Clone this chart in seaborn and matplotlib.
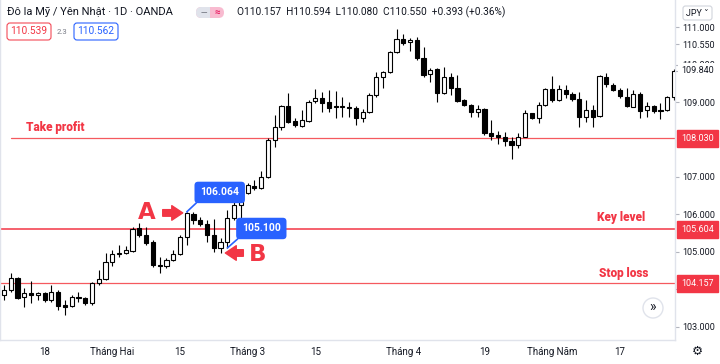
import numpy as np
import pandas as pd
import seaborn as sns
import matplotlib.pyplot as plt
from matplotlib import transforms
from matplotlib.patches import FancyBboxPatch, Circle, Rectangle

# USD/JPY daily candles
opens = [103.85, 103.98, 104.30, 103.79, 103.90, 103.85, 103.90, 103.71, 103.93, 103.58,
         103.55, 103.79, 103.76, 103.63, 104.17, 104.27, 104.73, 104.94, 104.97, 105.02,
         105.64, 105.45, 105.26, 104.65, 104.62, 104.78, 104.94, 105.40, 106.00, 105.86,
         105.74, 105.45, 105.10, 105.26, 105.90, 106.25, 106.57, 106.76, 106.71, 107.00,
         107.99, 108.34, 108.90, 108.50, 108.36, 108.50, 109.03, 109.11, 109.01, 108.88,
         108.86, 108.88, 108.84, 108.58, 108.74, 109.19, 109.67, 109.81, 110.34, 110.69,
         110.61, 110.66, 110.18, 109.75, 109.89, 109.25, 109.67, 109.38, 109.06, 108.92,
         108.74, 108.82, 108.18, 108.12, 108.07, 107.96, 107.86, 108.07, 108.71, 108.58,
         108.93, 109.35, 109.06, 109.33, 109.22, 109.09, 108.61, 108.79, 108.63, 109.67,
         109.46, 109.33, 109.14, 108.87, 109.22, 108.79, 108.90, 108.79, 108.79, 109.14]
highs = [104.11, 104.43, 104.33, 104.03, 104.22, 103.93, 103.93, 104.11, 103.98, 103.71,
         103.85, 103.93, 103.79, 104.19, 104.51, 104.97, 105.05, 105.18, 105.16, 105.66,
         105.77, 105.66, 105.32, 104.86, 104.83, 105.05, 105.45, 106.064, 106.06, 105.93,
         105.85, 105.88, 105.37, 106.12, 106.44, 106.60, 106.84, 106.92, 107.16, 108.04,
         108.66, 108.92, 109.25, 108.58, 108.79, 109.06, 109.35, 109.27, 109.33, 109.30,
         109.14, 108.99, 108.90, 108.82, 109.25, 109.81, 109.83, 110.37, 110.96, 110.82,
         110.72, 110.74, 110.48, 109.91, 109.91, 109.94, 109.78, 109.73, 109.09, 108.95,
         108.92, 108.84, 108.52, 108.23, 108.20, 108.07, 108.18, 108.79, 108.71, 109.01,
         109.38, 109.70, 109.46, 109.46, 109.27, 109.27, 109.06, 108.93, 109.73, 109.78,
         109.51, 109.38, 109.38, 109.33, 109.27, 109.01, 108.93, 108.98, 109.17, 109.89]
lows = [103.71, 103.93, 103.74, 103.52, 103.63, 103.71, 103.66, 103.66, 103.44, 103.31,
        103.52, 103.66, 103.58, 103.58, 104.11, 104.25, 104.62, 104.86, 104.94, 104.99,
        105.40, 105.18, 104.59, 104.43, 104.57, 104.75, 104.91, 105.18, 105.75, 105.69,
        105.26, 105.00, 104.97, 105.10, 105.85, 105.90, 106.55, 106.65, 106.68, 106.97,
        107.80, 108.26, 108.44, 108.34, 108.34, 108.47, 108.98, 108.74, 108.74, 108.58,
        108.61, 108.61, 108.39, 108.47, 108.71, 109.14, 109.38, 109.78, 110.32, 110.53,
        110.37, 110.13, 109.67, 109.54, 109.01, 109.22, 109.19, 109.01, 108.90, 108.61,
        108.61, 108.12, 107.99, 107.88, 107.83, 107.48, 107.78, 108.07, 108.55, 108.44,
        108.90, 109.01, 109.03, 109.11, 109.03, 108.34, 108.47, 108.34, 108.61, 109.41,
        109.30, 109.11, 108.87, 108.87, 108.58, 108.61, 108.71, 108.55, 108.77, 109.06]
closes = [103.98, 104.30, 103.76, 103.90, 103.85, 103.90, 103.71, 103.93, 103.55, 103.52,
          103.79, 103.76, 103.63, 104.17, 104.27, 104.73, 104.94, 104.97, 105.05, 105.61,
          105.45, 105.24, 104.65, 104.62, 104.78, 104.94, 105.40, 106.03, 105.86, 105.74,
          105.45, 105.10, 105.26, 105.90, 106.25, 106.57, 106.79, 106.71, 107.00, 107.99,
          108.34, 108.90, 108.47, 108.39, 108.52, 109.01, 109.11, 108.98, 108.84, 108.86,
          108.88, 108.84, 108.58, 108.74, 109.19, 109.67, 109.81, 110.34, 110.69, 110.58,
          110.66, 110.18, 109.73, 109.86, 109.25, 109.67, 109.38, 109.03, 108.92, 108.74,
          108.82, 108.18, 108.10, 108.07, 107.96, 107.86, 108.07, 108.71, 108.58, 108.93,
          109.35, 109.06, 109.35, 109.22, 109.09, 108.61, 108.79, 108.61, 109.70, 109.49,
          109.33, 109.17, 108.90, 109.22, 108.77, 108.90, 108.77, 108.77, 109.14, 109.84]

start_date = "2021-01-08"
tick_dates = ["2021-01-18", "2021-02-01", "2021-02-15", "2021-03-01", "2021-03-15",
              "2021-04-01", "2021-04-19", "2021-05-03", "2021-05-17"]
tick_labels = ["18", "Tháng Hai", "15", "Tháng 3", "15", "Tháng 4", "19", "Tháng Năm", "17"]

# 108.000 sits right under the 108.030 tag, so it is left out
price_ticks = [103, 104, 105, 106, 107, 109, 110, 111]
prev_price = 110.550
last_price = 109.840

level_names = ["Take profit", "Key level", "Stop loss"]
level_prices = [108.030, 105.604, 104.157]

point_a_date = "2021-02-16"   # candle marked A (high 106.064)
point_a_price = 106.064
point_b_date = "2021-02-24"   # candle marked B (low 105.100)
point_b_price = 105.100

red = "#f23645"
blue = "#2962ff"
ink = "#131722"

sns.set_theme(style="white")
plt.rcParams['font.family'] = ['Roboto', 'DejaVu Sans']

df = pd.DataFrame({"date": pd.bdate_range(start_date, periods=len(opens)),
                   "open": opens, "high": highs, "low": lows, "close": closes})
df["x"] = np.arange(len(df))
df["up"] = df["close"] >= df["open"]
dates = pd.DatetimeIndex(df["date"])

fig = plt.figure(figsize=(7.2, 3.64), dpi=100)
ax = fig.add_axes([0.0, 24 / 364, 675 / 720, 340 / 364])

# levels
ax.axhline(level_prices[0], xmin=11 / 675, color="#f5595f", lw=0.9, zorder=1)
ax.axhline(level_prices[1], color=red, lw=1.1, zorder=1)
ax.axhline(level_prices[2], color="#f5595f", lw=0.9, zorder=1)

# candles
ax.vlines(df["x"], df["low"], df["high"], color="black", lw=0.8, zorder=2)
body = (df["close"] - df["open"]).abs().clip(lower=0.025)
bottom = df[["open", "close"]].min(axis=1)
ax.bar(df["x"], body, bottom=bottom, width=0.62,
       color=np.where(df["up"], "white", "black"), edgecolor="black", linewidth=0.8, zorder=3)

ax.set_xlim(-0.59, 99.15)
ax.set_ylim(102.64, 111.73)

for s in ax.spines.values():
    s.set_color("#e0e3eb")
    s.set_linewidth(1)
ax.spines["top"].set_visible(False)

ax.set_xticks([dates.get_loc(pd.Timestamp(d)) for d in tick_dates])
ax.set_xticklabels(tick_labels)
ax.tick_params(axis="x", length=0, pad=5, labelsize=7, labelcolor=ink)

ax.yaxis.tick_right()
yt = price_ticks + [prev_price, last_price]
ax.set_yticks(yt)
ax.set_yticklabels([f"{v:.3f}" for v in price_ticks] + [f"{prev_price:.3f}", ""])
ax.tick_params(axis="y", length=3, width=0.8, color="#b2b5be", pad=2,
               labelsize=6.5, labelcolor=ink)

# right-side price tags
ax.annotate(f"{last_price:.3f}", xy=(1, last_price), xycoords=("axes fraction", "data"),
            xytext=(6, 0), textcoords="offset pixels", ha="left", va="center",
            fontsize=6.5, color=ink, annotation_clip=False, zorder=10,
            bbox=dict(boxstyle="square,pad=0.3", fc="white", ec="none"))
for p in level_prices:
    ax.annotate(f"{p:.3f}", xy=(1, p), xycoords=("axes fraction", "data"),
                xytext=(6, 0), textcoords="offset pixels", ha="left", va="center",
                fontsize=6.5, color="white", annotation_clip=False, zorder=10,
                bbox=dict(boxstyle="square,pad=0.45", fc=red, ec=red))

# level names
lvl_font = dict(fontweight="black", fontsize=8.5, color=red)
ax.annotate(level_names[0], xy=(26 / 675, level_prices[0]), xycoords=("axes fraction", "data"),
            xytext=(0, 7), textcoords="offset pixels", ha="left", va="baseline", **lvl_font)
ax.annotate(level_names[1], xy=(645 / 675, level_prices[1]), xycoords=("axes fraction", "data"),
            xytext=(0, 8), textcoords="offset pixels", ha="right", va="baseline", **lvl_font)
ax.annotate(level_names[2], xy=(648 / 675, level_prices[2]), xycoords=("axes fraction", "data"),
            xytext=(0, 6), textcoords="offset pixels", ha="right", va="baseline", **lvl_font)

# A / B markers
ia = dates.get_loc(pd.Timestamp(point_a_date))
ib = dates.get_loc(pd.Timestamp(point_b_date))
arrow = dict(arrowstyle="simple,head_length=0.75,head_width=1.0,tail_width=0.45",
             color=red, shrinkA=0, shrinkB=0, mutation_scale=10.5)
ax.annotate("", xy=(ia, point_a_price),
            xycoords=transforms.offset_copy(ax.transData, fig=fig, x=-4, y=-1, units="dots"),
            xytext=(-20, 0), textcoords="offset pixels", arrowprops=arrow, zorder=6)
ax.annotate("A", xy=(ia, point_a_price), xytext=(-40, -1), textcoords="offset pixels",
            ha="center", va="center", fontsize=16.5, fontweight="heavy",
            family="DejaVu Sans", color=red, zorder=6)
ax.annotate("", xy=(ib, point_b_price),
            xycoords=transforms.offset_copy(ax.transData, fig=fig, x=-2, y=-5, units="dots"),
            xytext=(18, 0), textcoords="offset pixels", arrowprops=arrow, zorder=6)
ax.annotate("B", xy=(ib, point_b_price), xytext=(30, -7), textcoords="offset pixels",
            ha="center", va="center", fontsize=16.5, fontweight="heavy",
            family="DejaVu Sans", color=red, zorder=6)

for i, p, off in [(ia, point_a_price, (33, 19.5)), (ib, point_b_price, (34, 19.5))]:
    ax.annotate(f"{p:.3f}", xy=(i, p), xytext=off, textcoords="offset pixels",
                ha="center", va="center", color="white", fontsize=7.5, fontweight="bold",
                bbox=dict(boxstyle="round,pad=0.55,rounding_size=0.35", fc=blue, ec="none"),
                arrowprops=dict(arrowstyle="-", color=blue, lw=1.2, relpos=(0.05, 0.0),
                                shrinkA=0, shrinkB=0), zorder=7)

# header overlay in pixel coordinates
ov = fig.add_axes([0, 0, 1, 1], zorder=5)
ov.set_xlim(0, 720)
ov.set_ylim(364, 0)
ov.axis("off")
ov.patch.set_alpha(0)

ov.text(7, 12, "Đô la Mỹ / Yên Nhật · 1D · OANDA", fontsize=8, color=ink, va="center")
ov.add_patch(FancyBboxPatch((196, 7), 28, 11, boxstyle="round,pad=0,rounding_size=5.5",
                            fc="#f8bbd0", ec="none"))
ov.add_patch(FancyBboxPatch((196, 7), 20, 11, boxstyle="round,pad=0,rounding_size=5.5",
                            fc="#e0e3eb", ec="none"))
ov.add_patch(Rectangle((210, 7), 7, 11, fc="#f8bbd0", ec="none"))
ov.text(203.5, 12.5, "—", fontsize=6, color="#787b86", ha="center", va="center", fontweight="bold")
ov.text(217, 12.5, "≈", fontsize=7, color="#e91e63", ha="center", va="center", fontweight="bold")
ov.text(237, 12, "O110.157  H110.594  L110.080  C110.550  +0.393 (+0.36%)",
        fontsize=7.3, color=ink, va="center")

ov.add_patch(FancyBboxPatch((7, 23), 44, 17, boxstyle="round,pad=0,rounding_size=3",
                            fc="white", ec=red, lw=0.8, alpha=0.9))
ov.text(29, 31.5, "110.539", fontsize=7.3, color=red, ha="center", va="center")
ov.text(62, 31.5, "2.3", fontsize=5.5, color="#787b86", ha="center", va="center")
ov.add_patch(FancyBboxPatch((74, 23), 44, 17, boxstyle="round,pad=0,rounding_size=3",
                            fc="white", ec=blue, lw=0.8))
ov.text(96, 31.5, "110.562", fontsize=7.3, color=blue, ha="center", va="center")

ov.add_patch(FancyBboxPatch((683, 6), 29, 14, boxstyle="round,pad=0,rounding_size=2.5",
                            fc="white", ec="#d1d4dc", lw=0.8))
ov.text(697.5, 13, "JPY ˅", fontsize=6.5, color=ink, ha="center", va="center")

ov.add_patch(Circle((653, 308), 10, fc="white", ec="#e0e3eb", lw=1))
ov.text(653, 307.5, "»", fontsize=10, color=ink, ha="center", va="center")
ov.text(697, 351, "⚙", fontsize=9, color=ink, ha="center", va="center", family="DejaVu Sans")

fig.savefig("out.png", dpi=100)
